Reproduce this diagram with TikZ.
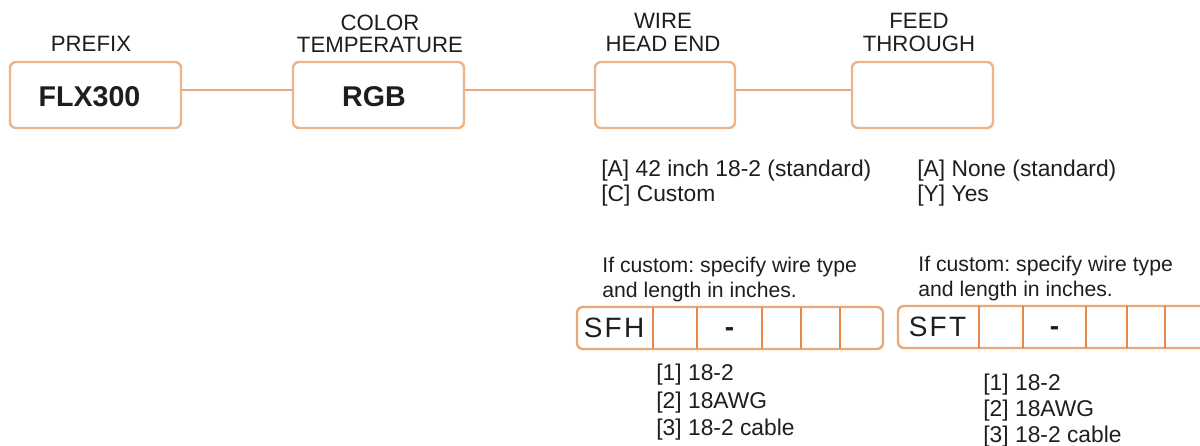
\documentclass[tikz,border=0pt]{standalone}
\usepackage{fontspec}
\setmainfont{Liberation Sans}
\frenchspacing
\definecolor{boxline}{HTML}{EDB48A}
\definecolor{conline}{HTML}{E9A784}
\definecolor{divline}{HTML}{E8894A}
\definecolor{stripline}{HTML}{EBA877}
\definecolor{txt}{HTML}{1E1E1E}
\tikzset{
  optbox/.style={draw=boxline, line width=1.2pt, rounded corners=3pt, fill=white,
    minimum height=33pt, inner sep=0pt, font=\fontsize{14.3}{16}\selectfont\bfseries, text=txt},
  conn/.style={draw=conline, line width=1.2pt},
  ttl/.style={anchor=base, inner sep=0pt, font=\fontsize{11.1}{13}\selectfont, text=txt},
  body/.style={anchor=base west, inner sep=0pt, font=\fontsize{11.4}{13}\selectfont, text=txt},
  note/.style={anchor=base west, inner sep=0pt, font=\fontsize{10.6}{13}\selectfont, text=txt},
  stripbox/.style={draw=stripline, line width=1.2pt, rounded corners=3pt, fill=white},
  divider/.style={draw=divline, line width=1.4pt},
  code/.style={inner sep=0pt, font=\fontsize{14}{16}\selectfont\addfontfeature{LetterSpace=8}, text=txt},
  dashtxt/.style={inner sep=0pt, font=\fontsize{14}{16}\selectfont\bfseries, text=txt}
}
\begin{document}
\begin{tikzpicture}[x=0.5pt, y=-0.5pt]
\useasboundingbox (0,0) rectangle (1200,445);
\begin{scope}
\clip (0,0) rectangle (1200,445);
% main boxes
\node[optbox, minimum width=85.5pt] (pre) at (95.5,95) {};
\node[optbox, minimum width=85.5pt] (col) at (378.5,95) {};
\node[optbox, minimum width=70pt] (wir) at (665,95) {};
\node[optbox, minimum width=70.5pt] (fed) at (922.5,95) {};
\node[optbox, draw=none, fill=none] (pret) at ([xshift=-3pt,yshift=-1pt]pre.center) {FLX300};
\node[optbox, draw=none, fill=none] (colt) at ([xshift=-2.3pt,yshift=-1pt]col.center) {RGB};
\coordinate (ly) at (0,90);
\draw[conn] (pre.east |- ly) -- (col.west |- ly);
\draw[conn] (col.east |- ly) -- (wir.west |- ly);
\draw[conn] (wir.east |- ly) -- (fed.west |- ly);
% titles
\node[ttl] (t1) at (91,51) {PREFIX};
\node[ttl] (t2a) at (380,30) {COLOR};
\node[ttl] (t2b) at (380,52) {TEMPERATURE};
\node[ttl] (t3a) at (663,28) {WIRE};
\node[ttl] (t3b) at (663,51) {HEAD END};
\node[ttl] (t4a) at (919,28) {FEED};
\node[ttl] (t4b) at (919,51) {THROUGH};
% options
\node[body] (wa) at (601,176) {[A] 42 inch 18-2 (standard)};
\node[body] (wc) at (601,201) {[C] Custom};
\node[body] (fa) at (917,176) {[A] None (standard)};
\node[body] (fy) at (917,201) {[Y] Yes};
\node[note] (wi1) at (602,272) {If custom: specify wire type};
\node[note] (wi2) at (602,297) {and length in inches.};
\node[note] (fi1) at (918,271) {If custom: specify wire type};
\node[note] (fi2) at (918,296) {and length in inches.};
% SFH strip
\draw[stripbox] (577,307) rectangle (883,349);
\foreach \xx in {653,697,762,801,840} \draw[divider] (\xx,307) -- (\xx,349);
\node[code] (sfh) at (614,328) {SFH};
\node[dashtxt] (d1) at (729.5,332) {-};
% SFT strip
\draw[stripbox] (898,306) rectangle (1215,348);
\foreach \xx in {979,1023,1086,1127,1165} \draw[divider] (\xx,306) -- (\xx,348);
\node[code] (sft) at (937.5,327) {SFT};
\node[dashtxt] (d2) at (1054.5,331) {-};
% lists
\node[body] (l1) at (656,380) {[1] 18-2};
\node[body] (l2) at (656,408) {[2] 18AWG};
\node[body] (l3) at (656,435) {[3] 18-2 cable};
\node[body] (r1) at (983,390) {[1] 18-2};
\node[body] (r2) at (983,416) {[2] 18AWG};
\node[body] (r3) at (983,442) {[3] 18-2 cable};
\end{scope}
\end{tikzpicture}
\end{document}
